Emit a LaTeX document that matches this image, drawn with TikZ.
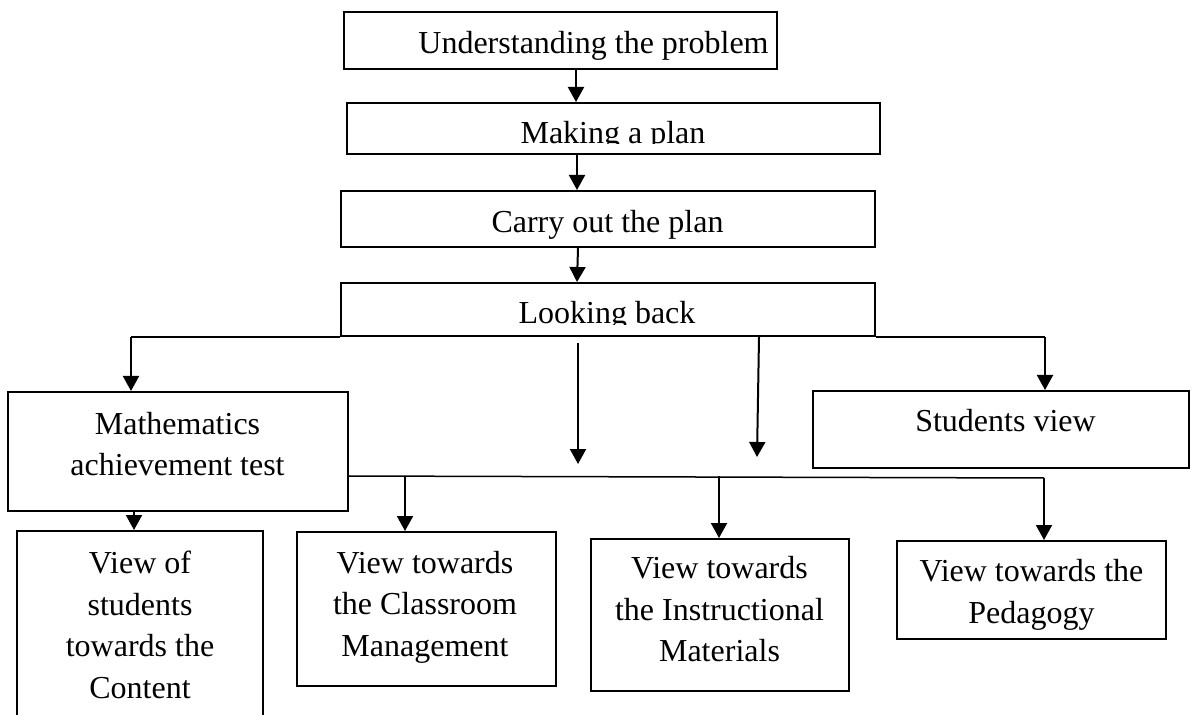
\documentclass[tikz,border=0pt]{standalone}
\usepackage{fontspec}
\setmainfont{Liberation Serif}
\usetikzlibrary{arrows.meta}

\tikzset{
	box/.style={draw, line width=1pt, rectangle, inner sep=0pt},
	txt/.style={anchor=north, inner sep=0pt, align=center},
	arr/.style={line width=1pt, -{Triangle[width=8pt,length=7.5pt]}},
	link/.style={line width=0.75pt},
}

\begin{document}
\begin{tikzpicture}[x=0.5pt, y=-0.5pt, font=\fontsize{16}{20.75}\selectfont]
		\useasboundingbox (0,0) rectangle (1192,715);
		
		%%% Riquadri
		\node[box, minimum width=216.5pt, minimum height=28.5pt] (und) at (560.5,40.5) {};
		\node[box, minimum width=266.5pt, minimum height=25.5pt] (plan) at (613.5,128.5) {};
		\node[box, minimum width=267pt, minimum height=28pt] (carry) at (608,219) {};
		\node[box, minimum width=267pt, minimum height=26.5pt] (look) at (608,309.5) {};
		\node[box, minimum width=170pt, minimum height=59.5pt] (math) at (178,451.5) {};
		\node[box, minimum width=188pt, minimum height=38.5pt] (stud) at (1001,429.5) {};
		\node[box, minimum width=123pt, minimum height=104.5pt] (cont) at (140,635.5) {};
		\node[box, minimum width=129.5pt, minimum height=77pt] (class) at (426.5,609) {};
		\node[box, minimum width=129pt, minimum height=76pt] (instr) at (720,615) {};
		\node[box, minimum width=134.5pt, minimum height=49pt] (ped) at (1031.5,590) {};
		
		%%% Testi
		\node[txt] (und-t) at (593.5,30.8) {Understanding the problem};
		\coordinate (pc) at (0,144);
		\begin{scope}
			\clip (plan.north west) rectangle (plan.east |- pc);
			\node[txt] (plan-t) at (613,120.7) {Making a plan};
		\end{scope}
		\node[txt] (carry-t) at (607.5,209.8) {Carry out the plan};
		\coordinate (lc) at (0,325);
		\begin{scope}
			\clip (look.north west) rectangle (look.east |- lc);
			\node[txt] (look-t) at (607,300.8) {Looking back};
		\end{scope}
		\node[txt] (math-t) at (177.5,411.4) {Mathematics\\achievement test};
		\node[txt] (stud-t) at (1005.5,408.8) {Students view};
		\node[txt] (cont-t) at (140,550.8) {View of\\students\\towards the\\Content};
		\node[txt] (class-t) at (425,550.5) {View towards\\the Classroom\\Management};
		\node[txt] (instr-t) at (719.5,556) {View towards\\the Instructional\\Materials};
		\node[txt] (ped-t) at (1031.5,559) {View towards the\\Pedagogy};
		
		%%% Punti delle frecce
		\coordinate (a1) at (576,0);
		\coordinate (a2) at (577,0);
		\coordinate (a3) at (578,0);
		\coordinate (m1) at (131,0);
		\coordinate (s1) at (1045,0);
		\coordinate (c1) at (134,0);
		\coordinate (k1) at (405,0);
		\coordinate (k2) at (719,0);
		\coordinate (b0) at (348,476);
		\coordinate (b1) at (1044,478);
		\coordinate (f1) at (578,343);
		\coordinate (f2) at (578,464);
		\coordinate (g1) at (759,0);
		\coordinate (g2) at (757,457);
		
		%%% Frecce
		\draw[arr] (und.south -| a1) -- (plan.north -| a1);
		\draw[arr] (plan.south -| a2) -- (carry.north -| a2);
		\draw[arr] (carry.south -| a3) -- (look.north -| a2);
		\draw[link] (look.south west) -- (look.south west -| m1);
		\draw[arr] (look.south west -| m1) -- (math.north -| m1);
		\draw[link] (look.south east) -- (look.south east -| s1);
		\draw[arr] (look.south east -| s1) -- (stud.north -| s1);
		\draw[arr] (f1) -- (f2);
		\draw[arr] (look.south -| g1) -- (g2);
		\draw[arr] (math.south -| c1) -- (cont.north -| c1);
		\draw[link] (b0) -- (b1);
		\draw[arr] (b0 -| k1) -- (class.north -| k1);
		\draw[arr] (b0 -| k2) -- (instr.north -| k2);
		\draw[arr] (b1) -- (ped.north -| b1);
	\end{tikzpicture}
\end{document}
